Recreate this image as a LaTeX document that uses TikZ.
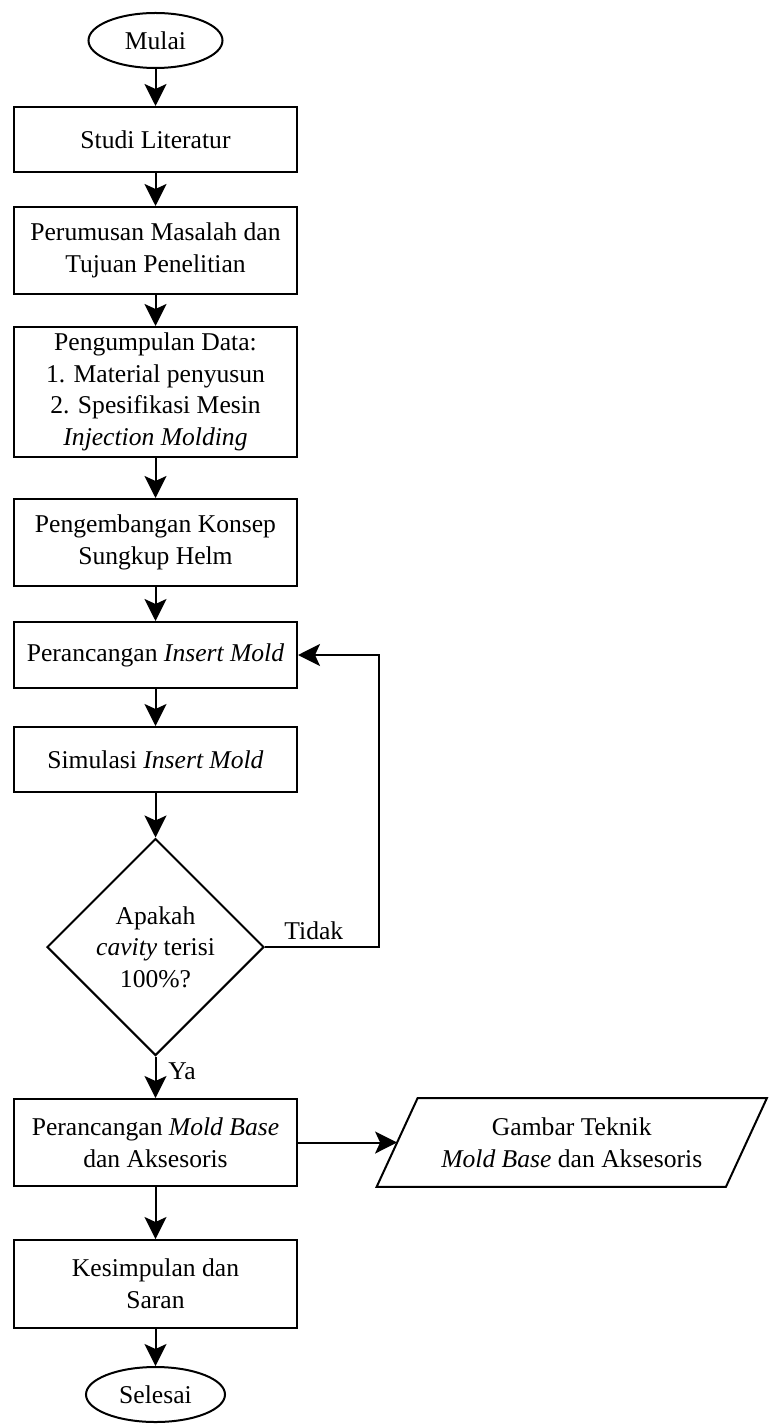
\documentclass[tikz,border=0pt]{standalone}
\usepackage{fontspec}
\setmainfont{Liberation Serif}
\usetikzlibrary{shapes.geometric,arrows.meta}

\begin{document}
\begin{tikzpicture}[x=0.5pt,y=0.5pt]
	\tikzstyle{every node}+=[inner sep=0pt, align=center, font=\fontsize{12.8}{15.8}\selectfont]
	\tikzstyle{terminal}=[draw, ellipse, line width=1pt, minimum height=27.5pt]
	\tikzstyle{proses}=[draw, rectangle, line width=1pt, minimum width=141.5pt]
	\tikzstyle{keputusan}=[draw, diamond, aspect=1, line width=1pt, minimum width=108.5pt, minimum height=108.5pt]
	\tikzstyle{luaran}=[rectangle, minimum width=174.25pt, minimum height=44pt]
	\tikzstyle{panah}=[line width=1pt, -{Stealth[length=11pt,width=11pt,inset=2.5pt]}]
	\useasboundingbox (0,0) rectangle (768,-1427);
	\node [terminal, minimum width=67pt] (mulai) at (155.5,-40.5) {Mulai};
	\node [proses, minimum height=32.5pt] (studi) at (155.5,-139.5) {Studi Literatur};
	\node [proses, minimum height=43.5pt] (rumusan) at (155.5,-250.5) {Perumusan Masalah dan\\Tujuan Penelitian};
	\node [proses, minimum height=65pt] (data) at (155.5,-392) {Pengumpulan Data:\\1. Material penyusun\\2. Spesifikasi Mesin\\\textit{Injection Molding}};
	\node [proses, minimum height=43.5pt] (konsep) at (155.5,-542.5) {Pengembangan Konsep\\Sungkup Helm};
	\node [proses, minimum height=33pt] (insert) at (155.5,-655) {Perancangan \textit{Insert Mold}};
	\node [proses, minimum height=32.5pt] (simulasi) at (155.5,-759.5) {Simulasi \textit{Insert Mold}};
	\node [keputusan] (cek) at (155.5,-947) {Apakah\\\textit{cavity} terisi\\100\%?};
	\node [proses, minimum height=43.5pt] (mold) at (155.5,-1142.5) {Perancangan \textit{Mold Base}\\dan Aksesoris};
	\node [luaran] (gambar) at (571.75,-1142.5) {Gambar Teknik\\\textit{Mold Base} dan Aksesoris};
	\draw [line width=1pt] ([xshift=-10.25pt]gambar.south west) -- ([xshift=10.25pt]gambar.north west)
		-- ([xshift=10.25pt]gambar.north east) -- ([xshift=-10.25pt]gambar.south east) -- cycle;
	\node [proses, minimum height=44pt] (simpul) at (155.5,-1284) {Kesimpulan dan\\Saran};
	\node [terminal, minimum width=69.5pt] (selesai) at (155.5,-1394.5) {Selesai};
	\draw [panah] (mulai) -- (studi);
	\draw [panah] (studi) -- (rumusan);
	\draw [panah] (rumusan) -- (data);
	\draw [panah] (data) -- (konsep);
	\draw [panah] (konsep) -- (insert);
	\draw [panah] (insert) -- (simulasi);
	\draw [panah] (simulasi) -- (cek);
	\draw [panah] (cek.east) -- ++(114,0) |- (insert.east);
	\node [anchor=base west] (tidak) at ([xshift=9.5pt,yshift=4pt]cek.east) {Tidak};
	\draw [panah] (cek) -- (mold);
	\node [anchor=base west] (ya) at ([xshift=6.25pt,yshift=-11.5pt]cek.south) {Ya};
	\draw [panah] (mold.east) -- (gambar.west);
	\draw [panah] (mold) -- (simpul);
	\draw [panah] (simpul) -- (selesai);
\end{tikzpicture}
\end{document}
